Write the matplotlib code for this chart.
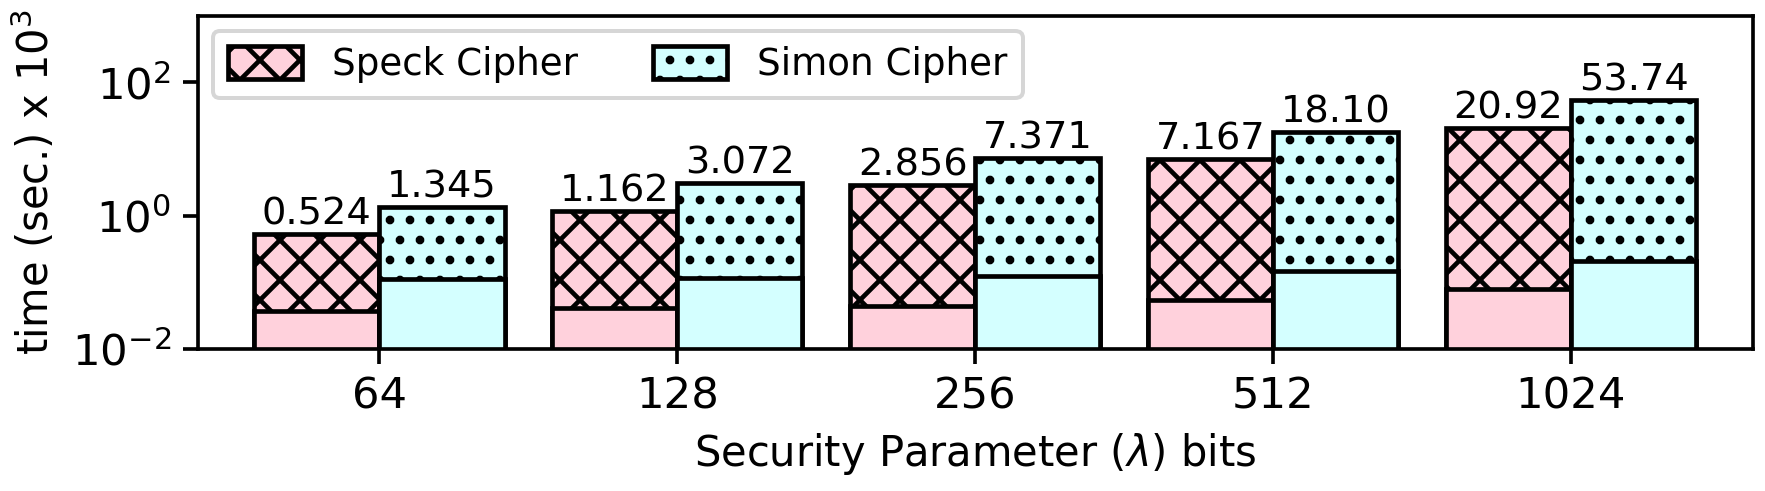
import matplotlib
matplotlib.use("Agg")
import matplotlib.pyplot as plt
import numpy as np

# --- data ---
bits = ["64", "128", "256", "512", "1024"]
speck_total = [0.524, 1.162, 2.856, 7.167, 20.92]
simon_total = [1.345, 3.072, 7.371, 18.10, 53.74]
# lower (unhatched) part of each bar
speck_base = [0.037, 0.041, 0.044, 0.054, 0.079]
simon_base = [0.111, 0.115, 0.125, 0.149, 0.213]
speck_labels = ["0.524", "1.162", "2.856", "7.167", "20.92"]
simon_labels = ["1.345", "3.072", "7.371", "18.10", "53.74"]

pink = "#FFD1DC"
cyan = "#D4FFFF"

plt.rcParams["hatch.linewidth"] = 1.4

fig, ax = plt.subplots(figsize=(1765 / 240, 491 / 240), dpi=240)

x = np.arange(len(bits))
w = 0.42
lw = 1.4

b1 = ax.bar(x - w / 2, speck_total, w, color=pink, edgecolor="black",
            linewidth=lw, hatch="xx", label="Speck Cipher")
ax.bar(x - w / 2, speck_base, w, color=pink, edgecolor="black", linewidth=lw)
b2 = ax.bar(x + w / 2, simon_total, w, color=cyan, edgecolor="black",
            linewidth=lw, hatch="..", label="Simon Cipher")
ax.bar(x + w / 2, simon_base, w, color=cyan, edgecolor="black", linewidth=lw)

for rect, lab in zip(b1, speck_labels):
    ax.annotate(lab, (rect.get_x() + rect.get_width() / 2, rect.get_height()),
                xytext=(0, 0.5), textcoords="offset points",
                ha="center", va="bottom", fontsize=11.5)
for rect, lab in zip(b2, simon_labels):
    ax.annotate(lab, (rect.get_x() + rect.get_width() / 2, rect.get_height()),
                xytext=(0, 0.5), textcoords="offset points",
                ha="center", va="bottom", fontsize=11.5)

ax.set_yscale("log")
ax.set_ylim(1e-2, 1e3)
ax.set_yticks([1e-2, 1e0, 1e2])
ax.minorticks_off()
ax.set_xlim(-0.61, 4.61)
ax.set_xticks(x)
ax.set_xticklabels(bits)
ax.tick_params(axis="both", labelsize=13, width=1.1, length=4.5)
for s in ax.spines.values():
    s.set_linewidth(1.1)

ax.set_xlabel(r"Security Parameter ($\lambda$) bits", fontsize=12.5)
ax.set_ylabel(r"time (sec.) x $10^3$", fontsize=12.5)

leg = ax.legend(loc="upper left", ncol=2, fontsize=11.2, edgecolor="#CCCCCC",
                handleheight=1.0, borderaxespad=0.4)
leg.get_frame().set_linewidth(1.2)

fig.subplots_adjust(left=0.112, right=0.993, top=0.968, bottom=0.289)
fig.savefig("out.png")
